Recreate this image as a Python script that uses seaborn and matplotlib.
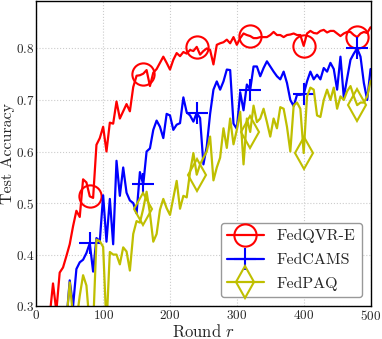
import numpy as np
import pandas as pd
import seaborn as sns
import matplotlib
matplotlib.use("Agg")
import matplotlib.pyplot as plt

rounds = list(range(0, 501, 5))

fedqvr_e = [
    0.10, 0.15, 0.20, 0.24, 0.28,
    0.344, 0.29, 0.365, 0.375, 0.397,
    0.42, 0.455, 0.485, 0.473, 0.546,
    0.54, 0.513, 0.51, 0.613, 0.626,
    0.648, 0.60, 0.656, 0.654, 0.697,
    0.664, 0.678, 0.692, 0.678, 0.725,
    0.747, 0.748, 0.751, 0.758, 0.727,
    0.753, 0.76, 0.772, 0.784, 0.772,
    0.759, 0.778, 0.791, 0.785, 0.793,
    0.79, 0.797, 0.795, 0.803, 0.788,
    0.795, 0.80, 0.797, 0.769, 0.807,
    0.81, 0.812, 0.817, 0.81, 0.822,
    0.807, 0.82, 0.829, 0.826, 0.824,
    0.82, 0.82, 0.822, 0.822, 0.822,
    0.826, 0.832, 0.826, 0.826, 0.822,
    0.826, 0.827, 0.829, 0.826, 0.826,
    0.805, 0.829, 0.834, 0.83, 0.829,
    0.834, 0.836, 0.831, 0.834, 0.834,
    0.829, 0.824, 0.829, 0.832, 0.832,
    0.826, 0.822, 0.829, 0.832, 0.83,
    0.841,
]

fedcams = [
    0.10, 0.10, 0.12, 0.14, 0.16,
    0.18, 0.20, 0.22, 0.25, 0.27,
    0.35, 0.30, 0.372, 0.385, 0.39,
    0.403, 0.422, 0.367, 0.432, 0.426,
    0.515, 0.425, 0.508, 0.42, 0.582,
    0.514, 0.569, 0.52, 0.505, 0.50,
    0.48, 0.56, 0.536, 0.60, 0.606,
    0.642, 0.66, 0.648, 0.626, 0.673,
    0.67, 0.642, 0.652, 0.655, 0.705,
    0.676, 0.67, 0.658, 0.675, 0.665,
    0.575, 0.61, 0.673, 0.72, 0.736,
    0.72, 0.736, 0.759, 0.758, 0.654,
    0.644, 0.715, 0.68, 0.73, 0.72,
    0.765, 0.765, 0.746, 0.762, 0.775,
    0.765, 0.755, 0.746, 0.74, 0.755,
    0.733, 0.70, 0.688, 0.71, 0.71,
    0.711, 0.736, 0.755, 0.74, 0.749,
    0.74, 0.762, 0.755, 0.772, 0.76,
    0.72, 0.784, 0.705, 0.742, 0.778,
    0.79, 0.80, 0.784, 0.733, 0.70,
    0.76,
]

fedpaq = [
    0.10, 0.12, 0.14, 0.16, 0.18,
    0.20, 0.22, 0.24, 0.26, 0.27,
    0.346, 0.28, 0.27, 0.32, 0.36,
    0.34, 0.26, 0.26, 0.429, 0.426,
    0.415, 0.26, 0.405, 0.40, 0.40,
    0.381, 0.414, 0.406, 0.369, 0.44,
    0.465, 0.462, 0.489, 0.522, 0.48,
    0.425, 0.44, 0.487, 0.508, 0.49,
    0.477, 0.51, 0.543, 0.489, 0.514,
    0.511, 0.56, 0.597, 0.555, 0.575,
    0.588, 0.60, 0.629, 0.544, 0.569,
    0.588, 0.645, 0.607, 0.664, 0.614,
    0.642, 0.677, 0.575, 0.664, 0.638,
    0.689, 0.657, 0.664, 0.683, 0.657,
    0.629, 0.664, 0.645, 0.686, 0.683,
    0.648, 0.60, 0.689, 0.695, 0.683,
    0.597, 0.707, 0.724, 0.72, 0.67,
    0.667, 0.70, 0.72, 0.70, 0.724,
    0.683, 0.707, 0.70, 0.717, 0.727,
    0.707, 0.69, 0.695, 0.695, 0.707,
    0.737,
]

series = [
    ("FedQVR-E", fedqvr_e, "r", "o"),
    ("FedCAMS", fedcams, "b", "+"),
    ("FedPAQ", fedpaq, "y", "d"),
]

sns.set_style("whitegrid", {"grid.linestyle": ":", "grid.color": "#cccccc",
                            "axes.edgecolor": "black"})
plt.rcParams["font.family"] = ["cmr10", "DejaVu Serif"]
plt.rcParams["mathtext.fontset"] = "cm"
plt.rcParams["axes.formatter.use_mathtext"] = True

fig, ax = plt.subplots(figsize=(3.82, 3.39), dpi=100)
fig.subplots_adjust(left=0.095, right=0.97, bottom=0.097, top=0.997)

for name, vals, col, mk in series:
    df = pd.DataFrame({"round": rounds, "acc": vals})
    sns.lineplot(data=df, x="round", y="acc", ax=ax, color=col, linewidth=1.6,
                 marker=mk, markevery=16, markersize=16, markerfacecolor="none",
                 markeredgecolor=col, markeredgewidth=1.5, label=name,
                 errorbar=None)

ax.set_xlim(0, 500)
ax.set_ylim(0.3, 0.892)
ax.set_xticks([0, 100, 200, 300, 400, 500])
ax.set_yticks([0.3, 0.4, 0.5, 0.6, 0.7, 0.8])
ax.tick_params(labelsize=9.5, length=0)
ax.tick_params(axis="x", pad=2)
ax.tick_params(axis="y", pad=1.5)
ax.set_xlabel("Round $r$", fontsize=12, labelpad=0)
ax.set_ylabel("Test Accuracy", fontsize=11.5, labelpad=0.5)
for s in ax.spines.values():
    s.set_color("black")
    s.set_linewidth(1.0)

ax.legend(loc="lower right", fontsize=11.5, handlelength=2.3, framealpha=1,
          edgecolor="#999999", fancybox=True, borderaxespad=0.55,
          labelspacing=0.6)

fig.savefig("out.png", dpi=100)
